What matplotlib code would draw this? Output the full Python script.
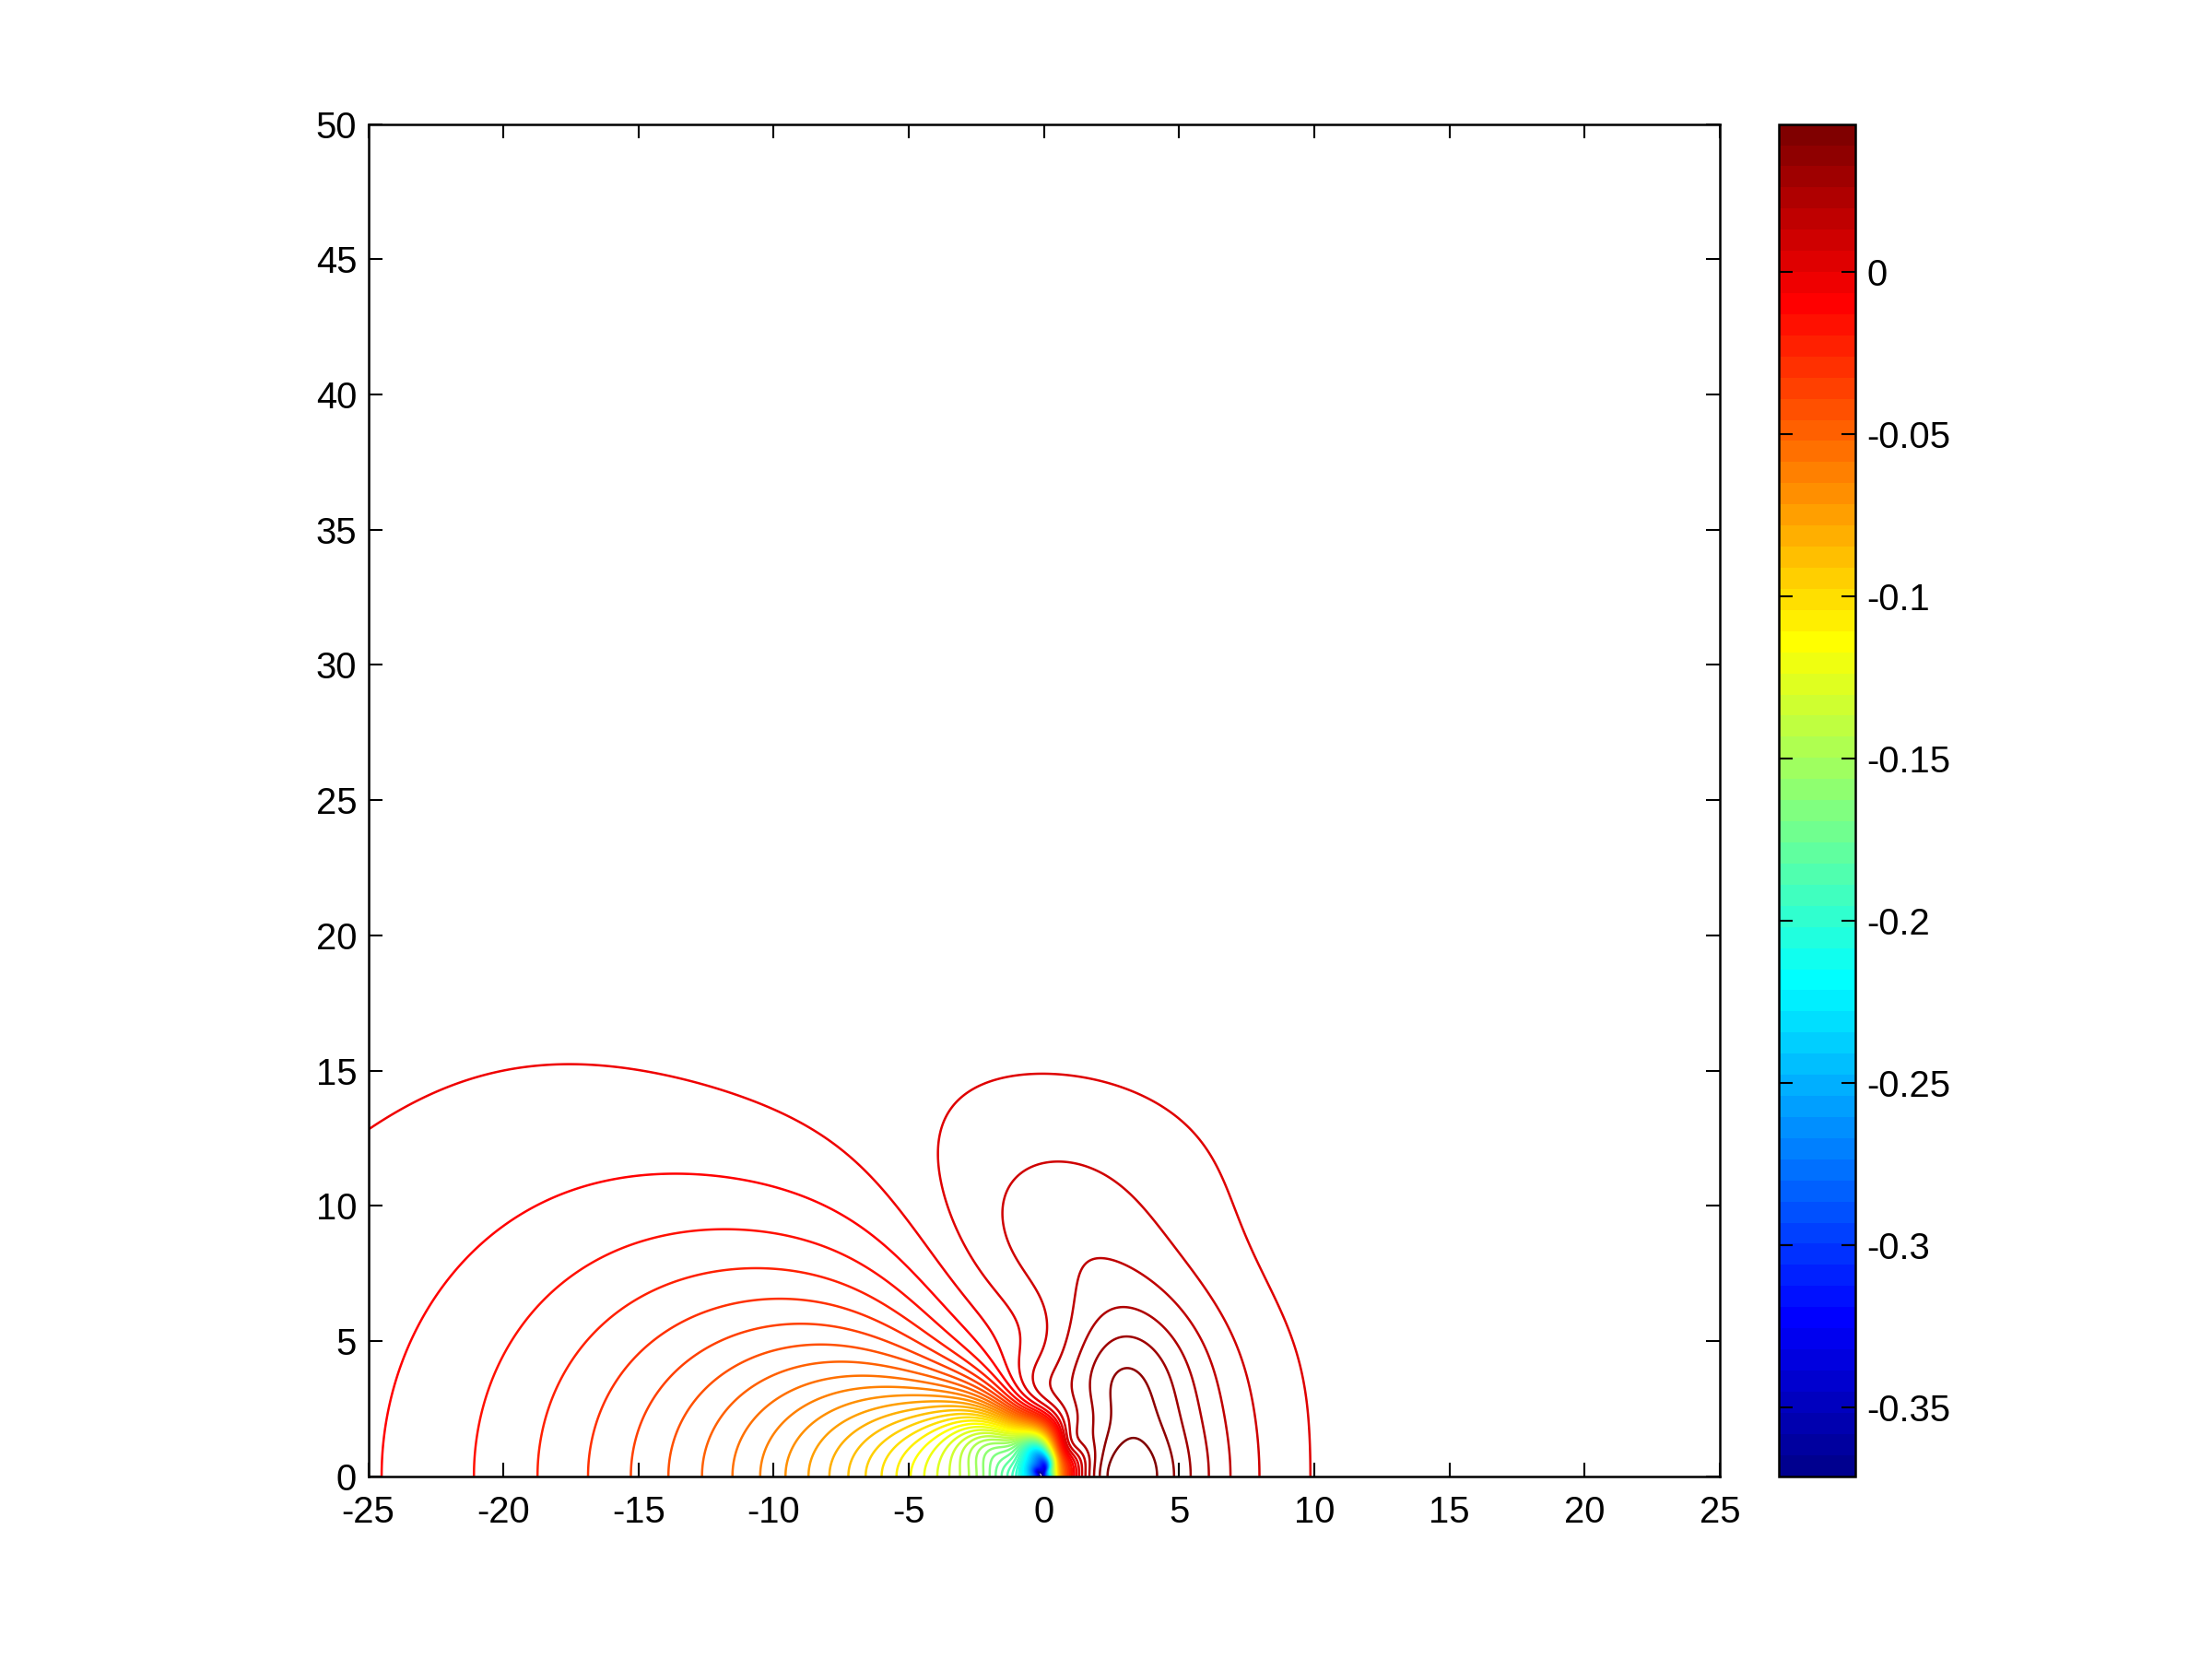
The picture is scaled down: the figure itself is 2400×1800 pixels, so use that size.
import numpy as np
import matplotlib
matplotlib.use("Agg")
import matplotlib.pyplot as plt
from matplotlib.colors import ListedColormap, Normalize
from matplotlib.cm import ScalarMappable

plt.rcParams['font.family'] = ['Liberation Sans', 'DejaVu Sans']
plt.rcParams['axes.unicode_minus'] = False

# colour range, 64 contour levels in between
z_min = -0.3713
z_max = 0.04565
n_levels = 64

# contour points: x, y, level index (1 = lowest level)
right_x = [2.8, 2.3, 2.24, 3.4, 3.86, 4.06,
           2.8, 1.9, 1.96, 3.86, 4.43, 4.71,
           2.45, 1.5, 1.56, 1.9, 3.86, 4.77, 5.23, 5.37,
           2.3, 0.93, 1.05, 1.5, 1.85, 4.34, 5.34, 5.91, 6.06,
           1.85, 0.19, 0.36, 0.82, 1.39, 1.67, 6.48, 6.83, 6.9,
           1.05, -1.03, -0.89, -0.32, -0.66, -0.09, 0.59, 1.16, 1.5, 2.98, 4.8, 6.39, 7.51, 7.97, 8.04,
           -0.66, -2.2, -3.05, -3.62, -3.76, -3.62, -3.28, -2.82, -2.37, -1.69, -1.12, -0.43, 0.14, 0.71, 1.16,
           1.84, 4.11, 5.93, 7.52, 8.66, 9.34, 9.85, 9.97, 3.0, 6.8, 8.2, 9.0, 9.65]
right_y = [2.27, 1.65, 0.06, 1.87, 1.08, 0.0,
           3.48, 2.44, 0.06, 2.44, 1.42, 0.0,
           4.71, 3.92, 2.78, 1.08, 4.03, 2.78, 1.65, 0.0,
           6.07, 5.05, 3.92, 2.21, 0.51, 4.82, 3.01, 1.65, 0.0,
           7.81, 6.53, 5.05, 3.35, 1.65, 0.51, 4.48, 2.78, 0.0,
           10.3, 8.23, 9.02, 9.82, 6.19, 4.48, 2.78, 1.42, 0.51, 9.7, 8.34, 5.73, 4.71, 2.21, 0.0,
           15.63, 15.3, 14.7, 13.68, 12.66, 11.63, 10.16, 9.02, 7.78, 6.19, 5.05, 3.69, 2.55, 1.42, 0.51,
           15.27, 13.9, 12.2, 9.82, 6.87, 4.65, 2.27, 0.0, 14.8, 11.1, 8.3, 5.8, 3.5]
right_j = [64] * 6 + [63] * 6 + [62] * 8 + [61] * 9 + [60] * 9 + [59] * 15 + [58] * 28

left_x = [-24.98, -23.44, -21.73, -20.03, -17.2, -14.93, -12.66, -10.96, -9.83, -9.2, -8.06, -6.92,
          -5.79, -4.65, -3.51, -2.37, -1.23, -0.09, 0.82, 1.22,
          -24.8, -24.46, -23.78, -22.87, -21.73, -20.03, -18.33, -16.07, -13.8, -11.53, -9.83, -9.2,
          -8.06, -6.92, -5.79, -4.65, -3.51, -2.37, -1.23,
          -21.15, -20.83, -20.03, -18.9, -17.2, -14.93, -12.66, -11.53, -9.83, -9.2, -8.06, -6.92,
          -5.79, -4.65, -3.51, -2.37,
          -18.62, -18.33, -17.2, -15.5, -13.8, -11.53, -9.83, -8.06, -5.79, -3.51,
          -16.69, -16.07, -14.93, -13.23, -11.53, -9.83, -8.06, -5.79, -3.51,
          -15.05, -14.37, -13.23, -11.53, -9.83, -8.06, -5.79,
          -13.71, -12.66, -11.53, -9.83,
          -12.53, -11.53, -9.83,
          -11.42, -9.83,
          -10.43, -9.83]
left_y = [13.17, 14.07, 14.81, 15.24, 15.52, 15.38, 14.76, 14.07, 13.48, 13.11, 12.43, 11.52,
          10.27, 8.91, 7.43, 5.85, 4.14, 2.44, 1.08, 0.28,
          0.0, 2.61, 4.88, 6.47, 7.95, 9.25, 10.22, 10.9, 11.09, 10.9, 10.56, 10.2,
          9.7, 9.02, 8.23, 7.2, 5.96, 4.6, 3.12,
          0.0, 2.61, 4.31, 5.79, 7.26, 8.51, 8.97, 9.01, 8.88, 8.68, 8.29, 7.78,
          7.09, 6.3, 5.28, 4.14,
          0.0, 2.61, 4.88, 6.36, 7.15, 7.55, 7.64, 7.32, 6.41, 4.71,
          0.0, 3.18, 4.88, 6.02, 6.41, 6.61, 6.36, 5.73, 4.26,
          0.0, 3.18, 4.54, 5.33, 5.68, 5.62, 5.05,
          0.0, 3.18, 4.2, 4.82,
          0.0, 2.61, 3.86,
          0.0, 2.95,
          0.0, 1.82]
left_j = [57] * 20 + [56] * 19 + [55] * 16 + [54] * 10 + [53] * 9 + [52] * 7 + [51] * 4 + [50] * 3 + [49] * 2 + [48] * 2

# where the denser levels cross the axis left of the origin
axis_x = [-9.54, -8.75, -7.95, -7.27, -6.58, -5.96, -5.39, -4.87, -4.42, -3.96, -3.56, -3.17, -2.82, -2.48, -2.14]
axis_j = [47, 46, 45, 44, 43, 42, 41, 40, 39, 38, 37, 36, 35, 34, 33]

# colours near the origin, read as level index
core_x = [0.14, 0.3, 0.48, 0.7, 1.04, 0.0, 0.0, 0.0, 0.0, 0.0, -0.3, -0.66, -1.3, -1.7,
          -1.0, -2.0, -1.5, -2.6, 0.5, -0.5, 0.5, -0.7, 0.3, 0.0,
          -0.15, 0.1, -0.4, -0.2, 0.2]
core_y = [0.0, 0.0, 0.0, 0.0, 0.0, 0.5, 0.85, 1.2, 1.53, 1.9, 0.0, 0.0, 0.0, 0.0,
          1.0, 2.0, 0.5, 2.0, 0.5, 0.5, 1.0, 1.4, 0.25, 0.0,
          0.2, 0.15, 0.3, 0.45, 0.4]
core_j = [18, 26, 38, 48, 56, 10, 22, 30, 40, 48, 10, 22, 28, 31,
          30, 41, 30, 40, 40, 20, 44, 35, 28, 3,
          4, 10, 12, 12, 20]

# spots between two neighbouring lines: x, y, lower level index
gap_x = [-25, -20, -15, -10, -6.5, -5.2, -4.2, -2.85, -1.75, 10.8, 11, 10.5, 9.5, 8, 5, 1, -2, -4.5,
         10.3, 9.6, 8.5, 6.8, 3.0,
         0, -2, 4, 7, 8.8, -1.9, 3, -1.35, 8.8, 8.0, 6.5, 4.0,
         0, 3, -17, -8, -3.0, 3.1, -24.5, -25, -25, -25]
gap_y = [15.5, 16.5, 16.7, 15.3, 13.5, 11.5, 9.5, 7.6, 5.5, 0, 3, 6, 9.5, 12.5, 14.8, 16.8, 16.5, 15,
         4.0, 7.5, 10.5, 13.0, 16.3,
         12.5, 12, 11.8, 7, 2.5, 9.0, 12.8, 6.8, 4.0, 7.0, 9.8, 12.8,
         8.5, 8.6, 13.5, 11, 6.2, 1.0, 11.0, 9.0, 6.0, 3.0]
gap_j = [57] * 23 + [58] * 12 + [59] * 2 + [56] * 3 + [64] + [56] * 4

# open area with no line: ticks of an empty lattice
empty_top_x = [-25, -20, -15, -10, -5, 0, 5, 10, 15, 20, 25]
empty_top_y = [18, 21, 25, 32, 40, 50]
empty_right_x = [12, 16, 20, 25]
empty_right_y = [0, 4, 8, 12, 16]

d_z = (z_max - z_min) / (n_levels + 1)
levels = z_min + d_z * np.arange(1, n_levels + 1)


def lvl(j):
    return z_min + d_z * np.asarray(j, dtype=float)


def matlab_jet(m=64):
    n = int(np.ceil(m / 4))
    u = np.concatenate([np.arange(1, n + 1) / n, np.ones(n - 1), np.arange(n, 0, -1) / n])
    g = int(np.ceil(n / 2)) - (1 if m % 4 == 1 else 0) + np.arange(1, len(u) + 1)
    r = g + n
    b = g - n
    J = np.zeros((m, 3))
    J[r[r <= m] - 1, 0] = u[r <= m]
    J[g[g <= m] - 1, 1] = u[g <= m]
    J[b[b >= 1] - 1, 2] = u[b >= 1]
    return ListedColormap(J)


# smooth axisymmetric field (softened multipoles) fitted through the read points
scales = [0.3, 0.7, 1.5, 3.0, 5.5, 10.0, 18.0, 32.0, 60.0]
n_l = 7


def basis(x, y):
    x = np.asarray(x, dtype=float)
    y = np.asarray(y, dtype=float)
    r = np.hypot(x, y)
    safe = np.where(r > 0, r, 1.0)
    c = np.where(r > 0, x / safe, 1.0)
    P = [np.ones_like(c), c]
    for l in range(2, n_l):
        P.append(((2 * l - 1) * c * P[l - 1] - (l - 1) * P[l - 2]) / l)
    cols = [np.ones_like(r)]
    for s in scales:
        u = r / s
        for l in range(n_l):
            cols.append(P[l] * u ** l / (1 + u * u) ** (l + 0.5))
    return np.stack(cols, axis=-1)


gx, gy = np.meshgrid(empty_top_x, empty_top_y)
hx, hy = np.meshgrid(empty_right_x, empty_right_y)
px = np.concatenate([right_x, left_x, axis_x, core_x, gap_x, gx.ravel(), hx.ravel(), [3.1, -0.15]])
py = np.concatenate([right_y, left_y, np.zeros(len(axis_x)), core_y, gap_y, gy.ravel(), hy.ravel(), [0.0, 0.0]])
pv = np.concatenate([lvl(right_j), lvl(left_j), lvl(axis_j), lvl(core_j), lvl(gap_j) + d_z / 2,
                     np.full(gx.size + hx.size, lvl(57) + d_z / 2), [z_max, z_min]])
w_right = np.where(np.array(right_j) == 58, 2.0, 1.0)
w_left = np.where(np.array(left_j) == 57, 2.0, 1.0)
pw = np.concatenate([w_right, w_left, np.ones(len(axis_x)), np.full(len(core_x), 0.5),
                     np.ones(len(gap_x) + gx.size + hx.size), [3.0, 3.0]])

A = basis(px, py) * pw[:, None]
norms = np.linalg.norm(A, axis=0)
An = A / norms
coef = np.linalg.solve(An.T @ An + 1e-8 * np.eye(An.shape[1]), An.T @ (pv * pw)) / norms

xs = np.linspace(-25, 25, 801)
ys = np.linspace(0, 50, 801)
X, Y = np.meshgrid(xs, ys)
Z = np.empty_like(X)
for i in range(len(ys)):
    Z[i] = basis(X[i], Y[i]) @ coef
Z = np.clip(Z, z_min, z_max)

cmap = matlab_jet(64)
norm = Normalize(z_min, z_max)

fig = plt.figure(figsize=(8, 6), dpi=300)
ax = fig.add_axes([0.1665, 0.1102, 0.6109, 0.8150])
ax.contour(X, Y, Z, levels=levels, cmap=cmap, norm=norm, linewidths=0.6)
ax.set_xlim(-25, 25)
ax.set_ylim(0, 50)
ax.set_xticks(np.arange(-25, 26, 5))
ax.set_yticks(np.arange(0, 51, 5))
ax.tick_params(direction='in', top=True, right=True, length=3.6, width=0.5, labelsize=9.6)
ax.tick_params(axis='x', pad=5)
ax.tick_params(axis='y', pad=3)
for sp in ax.spines.values():
    sp.set_linewidth(0.6)

cax = fig.add_axes([0.8042, 0.1102, 0.0346, 0.8150])
cb = fig.colorbar(ScalarMappable(norm=norm, cmap=cmap), cax=cax)
cb.set_ticks([-0.35, -0.3, -0.25, -0.2, -0.15, -0.1, -0.05, 0])
cb.set_ticklabels(['-0.35', '-0.3', '-0.25', '-0.2', '-0.15', '-0.1', '-0.05', '0'])
cax.tick_params(direction='in', left=True, right=True, length=3.6, width=0.5, labelsize=9.6, pad=3)
cb.outline.set_linewidth(0.6)

fig.savefig("out.png", dpi=300)
